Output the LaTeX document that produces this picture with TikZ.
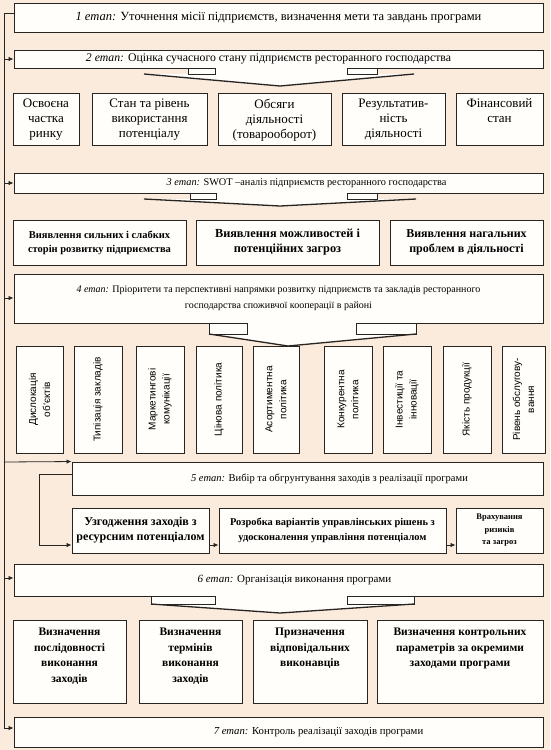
\documentclass[tikz,border=0pt]{standalone}
\usepackage{fontspec}
\setmainfont{Liberation Serif}
\setsansfont{Liberation Sans}
\usetikzlibrary{arrows.meta}
\definecolor{bg}{RGB}{250,235,220}
\definecolor{ln}{RGB}{40,36,34}
\definecolor{bxfill}{RGB}{255,254,251}
\tikzset{
  box/.style={draw=ln, line width=0.95pt, fill=bxfill, inner sep=0pt, text=black},
  fs/.style 2 args={font=\fontsize{#1}{#2}\selectfont},
  vbox/.style={font=\sffamily\fontsize{10}{14}\selectfont},
  arr/.style={draw=ln, line width=0.8pt, -{Latex[length=5pt,width=4.5pt]}},
  rail/.style={draw=ln, line width=0.8pt},
  tabbox/.style={draw=ln, line width=0.8pt, fill=bxfill},
  vline/.style={draw=ln, line width=1.3pt, line join=round},
}
\newcommand\mkbox[8][]{%
  \pgfmathsetmacro\mbw{#5-#3}%
  \pgfmathsetmacro\mbh{#6-#4}%
  \node[box,#1] (#2) at ({(#3+#5)/2},{(#4+#6)/2})
    {\parbox[c][\mbh pt][#7]{\mbw pt}{\centering #8}};}
\newcommand\mkvbox[6]{%
  \pgfmathsetmacro\mbw{#4-#2}%
  \pgfmathsetmacro\mbh{#5-#3}%
  \node[box,vbox,rotate=90] (#1) at ({(#2+#4)/2},{(#3+#5)/2})
    {\parbox[c][\mbw pt][c]{\mbh pt}{\centering #6}};}
\begin{document}
\begin{tikzpicture}[x=1pt,y=-1pt]
\useasboundingbox (0,0) rectangle (550,750);
\fill[bg] (0,0) rectangle (550,750);

% ---- stage 1
\mkbox[fs={12.5}{15}]{s1}{14}{3}{543}{32}{c}{\textit{1 етап:} Уточнення місії підприємств, визначення мети та завдань програми}
% ---- stage 2
\mkbox[fs={11.75}{15}]{s2}{14}{50}{543}{68}{c}{\hspace*{-20pt}\textit{2 етап:} Оцінка сучасного стану підприємств ресторанного господарства}
\fill[bxfill] (144,74) -- (280,86) -- (414,74) -- cycle;
\fill[bxfill] (188,68) rectangle (377,74);
\draw[tabbox] (188,68) rectangle (215,74);
\draw[tabbox] (347,68) rectangle (377,74);
\draw[vline] (144,74) -- (280,86) -- (414,74);

% ---- row 1
\mkbox[fs={13}{15}]{a1}{13}{93}{79}{145}{t}{\vspace*{6pt}Освоєна\\частка\\ринку}
\mkbox[fs={13}{15}]{a2}{92}{93}{207}{145}{t}{\vspace*{6pt}Стан та рівень\\використання\\потенціалу}
\mkbox[fs={13}{15}]{a3}{218}{93}{331}{145}{t}{\vspace*{6pt}Обсяги\\діяльності\\(товарооборот)}
\mkbox[fs={13}{15}]{a4}{342}{93}{445}{145}{t}{\vspace*{6pt}Результатив-\\ність\\діяльності}
\mkbox[fs={13}{15}]{a5}{456}{93}{543}{145}{t}{\vspace*{6pt}Фінансовий\\стан}

% ---- stage 3
\mkbox[fs={10.3}{14}]{s3}{14}{173}{543}{193}{c}{\hspace*{56pt}\textit{3 етап:} SWOT –аналіз підприємств ресторанного господарства}
\fill[bxfill] (144,199) -- (280,206) -- (416,199) -- cycle;
\fill[bxfill] (190,193) rectangle (377,199);
\draw[tabbox] (190,193) rectangle (216,199);
\draw[tabbox] (347,193) rectangle (377,199);
\draw[vline] (144,199) -- (280,206) -- (416,199);

% ---- SWOT row
\mkbox[fs={10.5}{14}]{b1}{13}{220}{186}{265}{c}{\bfseries Виявлення сильних і слабких\\сторін розвитку підприємства}
\mkbox[fs={12.3}{15}]{b2}{196}{220}{379}{265}{c}{\bfseries Виявлення можливостей і\\потенційних загроз}
\mkbox[fs={12}{15}]{b3}{390}{220}{543}{265}{c}{\bfseries Виявлення нагальних\\проблем в діяльності}

% ---- stage 4
\mkbox[fs={10}{16}]{s4}{14}{274}{543}{323}{c}{\textit{4 етап:} Пріоритети та перспективні напрямки розвитку підприємств та закладів ресторанного\\господарства споживчої кооперації в районі}
\fill[bxfill] (209,334) -- (288,346) -- (416,334) -- cycle;
\fill[bxfill] (209,323) rectangle (416,334);
\draw[tabbox] (209,323) rectangle (247,334);
\draw[tabbox] (356,323) rectangle (416,334);

% ---- vertical boxes
\mkvbox{v1}{16}{346}{63}{453}{Дислокація\\об`єктів}
\mkvbox{v2}{74}{346}{122}{453}{Типізація закладів}
\mkvbox{v3}{136}{346}{184}{453}{Маркетингові\\комунікації}
\mkvbox{v4}{196}{346}{242}{453}{Цінова політика}
\mkvbox{v5}{253}{346}{299}{453}{Асортиментна\\політика}
\mkvbox{v6}{324}{346}{372}{453}{Конкурентна\\політика}
\mkvbox{v7}{383}{346}{431}{453}{Інвестиції та\\інновації}
\mkvbox{v8}{443}{346}{491}{453}{Якість продукції}
\mkvbox{v9}{502}{346}{545}{453}{Рівень обслугову-\\вання}
\draw[vline] (209,334) -- (288,346) -- (416,334);

% ---- stage 5
\mkbox[fs={10.5}{13}]{s5}{72}{462}{543}{495}{c}{\hspace*{44pt}\textit{5 етап:} Вибір та обгрунтування заходів з реалізації програми}
\mkbox[fs={12}{15}]{c1}{72}{508}{209}{553}{c}{\bfseries Узгодження заходів з\\ресурсним потенціалом}
\mkbox[fs={10.4}{15}]{c2}{219}{508}{446}{553}{c}{\bfseries Розробка варіантів управлінських рішень з\\удосконалення управління потенціалом}
\mkbox[fs={8.5}{12.5}]{c3}{456}{508}{543}{553}{c}{\bfseries Врахування\\ризиків\\та загроз}

% ---- stage 6
\mkbox[fs={11}{14}]{s6}{14}{564}{543}{596}{c}{\hspace*{32pt}\textit{6 етап:} Організація виконання програми}
\fill[bxfill] (151,604) -- (280,613) -- (414,604) -- cycle;
\fill[bxfill] (151,596) rectangle (414,604);
\draw[tabbox] (151,596) rectangle (215,604);
\draw[tabbox] (347,596) rectangle (414,604);
\draw[vline] (151,604) -- (280,613) -- (414,604);

% ---- row 6
\mkbox[fs={11.5}{15.5}]{d1}{13}{620}{126}{703}{t}{\vspace*{8pt}\bfseries Визначення\\послідовності\\виконання\\заходів}
\mkbox[fs={11.5}{15.5}]{d2}{139}{620}{242}{703}{t}{\vspace*{8pt}\bfseries Визначення\\термінів\\виконання\\заходів}
\mkbox[fs={11.5}{15.5}]{d3}{253}{620}{367}{703}{t}{\vspace*{8pt}\bfseries Призначення\\відповідальних\\виконавців}
\mkbox[fs={11.5}{15.5}]{d4}{377}{620}{543}{703}{t}{\vspace*{8pt}\bfseries Визначення контрольних\\параметрів за окремими\\заходами програми}

% ---- stage 7
\mkbox[fs={10.7}{14}]{s7}{14}{717}{543}{747}{c}{\hspace*{80pt}\textit{7 етап:} Контроль реалізації заходів програми}

% ---- rail and arrows
\coordinate (rt) at (4,13);
\coordinate (r2) at (4,59);
\coordinate (r3) at (4,183);
\coordinate (r4) at (4,298);
\coordinate (r5) at (4,462);
\coordinate (r6) at (4,578);
\coordinate (rb) at (4,728);
\draw[rail] (s1.west |- rt) -- (rt) -- (rb);
\draw[arr] (r2) -- (s2.west |- r2);
\draw[arr] (r3) -- (s3.west |- r3);
\draw[arr] (r4) -- (s4.west |- r4);
\draw[arr] (r5) -- (s5.north west);
\draw[arr] (r6) -- (s6.west |- r6);
\draw[arr] (rb) -- (s7.west |- rb);

\coordinate (l1) at (39,474);
\coordinate (l2) at (39,545);
\draw[arr] (s5.west |- l1) -- (l1) -- (l2) -- (c1.west |- l2);
\draw[arr] (c1.east |- l2) -- (c2.west |- l2);
\draw[arr] (c2.east |- l2) -- (c3.west |- l2);
\end{tikzpicture}
\end{document}
